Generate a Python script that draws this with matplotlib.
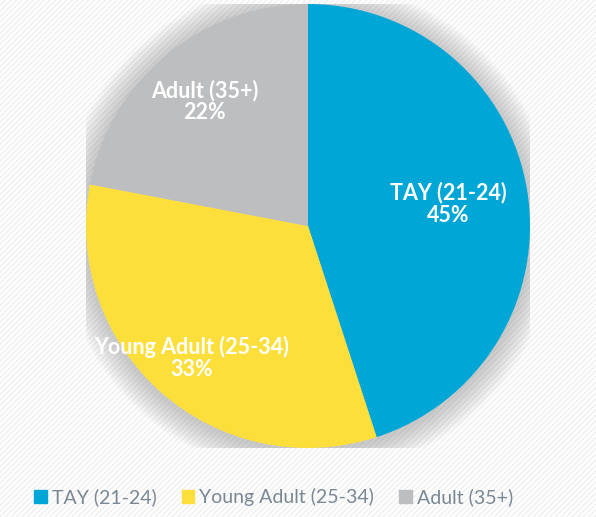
import numpy as np
import matplotlib.pyplot as plt
from matplotlib.patches import Circle, Rectangle

labels = ["TAY (21-24)", "Young Adult (25-34)", "Adult (35+)"]
shares = [45, 33, 22]
colors = ["#00A6D6", "#FDDF3C", "#BDBEC0"]
label_radius = [0.64, 0.79, 0.73]

plt.rcParams['font.family'] = ['Lato', 'DejaVu Sans']
plt.rcParams['hatch.color'] = '#ececec'
plt.rcParams['hatch.linewidth'] = 1.0

fig = plt.figure(figsize=(5.96, 5.17), dpi=100)
fig.patch.set_facecolor('white')

# faint diagonal texture over the background
bg = fig.add_axes([0, 0, 1, 1])
bg.set_axis_off()
bg.add_patch(Rectangle((0, 0), 1, 1, facecolor='white', hatch='//////', edgecolor='#efefef', lw=0))
bg.set_xlim(0, 1)
bg.set_ylim(0, 1)

# pie axes: center (308, 226) px, radius 222 px
r_px = 222
cx, cy = 308, 226
W, H = 596, 517
ax = fig.add_axes([(cx - r_px) / W, (H - cy - r_px) / H, 2 * r_px / W, 2 * r_px / H])

# soft shadow halo
for k in range(12):
    ax.add_patch(Circle((0.0, -0.01), 1.0 + 0.01 * (12 - k), color='#8c8c8c',
                        alpha=0.045, lw=0, zorder=0))

wedges, _ = ax.pie(shares, colors=colors, startangle=90, counterclock=False,
                   radius=1.0, wedgeprops=dict(linewidth=0))
for w in wedges:
    w.set_zorder(2)

ax.set_xlim(-1, 1)
ax.set_ylim(-1, 1)
ax.set_aspect('equal')
ax.set_axis_off()

start = 90.0
for lab, val, rr in zip(labels, shares, label_radius):
    span = 360.0 * val / sum(shares)
    mid = np.deg2rad(start - span / 2)
    start -= span
    ax.text(rr * np.cos(mid), rr * np.sin(mid), f"{lab}\n{val}%", ha='center', va='center',
            color='white', fontsize=15.5, fontweight='bold', linespacing=1.05, zorder=3)

handles = [Rectangle((0, 0), 1, 1, color=c) for c in colors]
fig.legend(handles, labels, loc='center', bbox_to_anchor=(0.459, 0.038), ncol=3, frameon=False,
           fontsize=14, labelcolor='#7a8896', handlelength=0.65, handleheight=0.65,
           handletextpad=0.25, columnspacing=1.3)

fig.savefig('out.png', dpi=100, facecolor='white')
